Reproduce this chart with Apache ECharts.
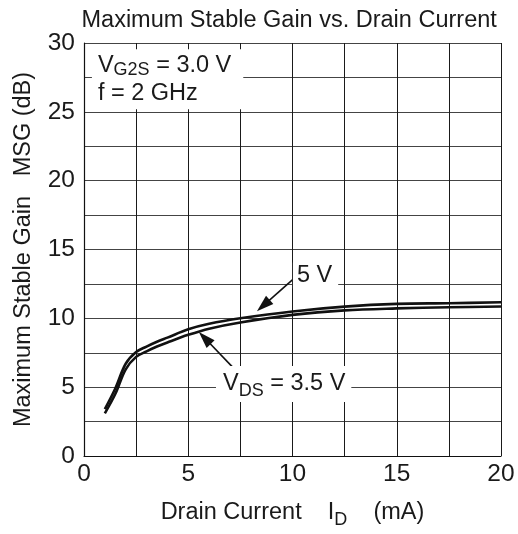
<!DOCTYPE html>
<html><head><meta charset="utf-8">
<script src="https://cdn.jsdelivr.net/npm/echarts/dist/echarts.min.js"></script>
<style>html,body{margin:0;padding:0;background:#fff}#c{width:518px;height:534px}</style>
</head><body><div id="c"></div>
<script>
const drainCurrent = [1, 1.5, 2, 2.5, 3, 3.5, 4, 5, 6, 7.5, 10, 12.5, 15, 17.5, 20];
const msgVds5 = [3.4, 4.9, 6.7, 7.55, 7.95, 8.3, 8.6, 9.2, 9.6, 10.0, 10.5, 10.85, 11.05, 11.1, 11.17];
const msgVds35 = [3.1, 4.5, 6.3, 7.2, 7.6, 7.95, 8.25, 8.8, 9.25, 9.7, 10.25, 10.58, 10.72, 10.8, 10.86];
const xTicks = [0, 5, 10, 15, 20];
const yTicks = [0, 5, 10, 15, 20, 25, 30];

const FONT = '"Liberation Sans", Arial, Helvetica, sans-serif';
const TXT = '#1a1a1a';
const pairs = (xs, ys) => xs.map((x, i) => [x, ys[i]]);
const arrowEnd = {symbol: 'triangle', symbolSize: [11, 17]};

const chart = echarts.init(document.getElementById('c'), null, {renderer: 'canvas'});
chart.setOption({
  animation: false,
  backgroundColor: '#fff',
  textStyle: {fontFamily: FONT, color: TXT},
  title: {
    text: 'Maximum Stable Gain vs. Drain Current',
    left: 81.5, top: 9, padding: 0,
    textStyle: {fontFamily: FONT, fontSize: 23.5, fontWeight: 'normal', color: TXT}
  },
  grid: {left: 84, right: 17, top: 43, bottom: 75, containLabel: false},
  xAxis: {
    type: 'value', min: xTicks[0], max: xTicks[xTicks.length - 1], interval: 5,
    name: '{t|Drain Current    I}{s|D}{t|    (mA)}',
    nameLocation: 'middle', nameGap: 45,
    nameTextStyle: {
      rich: {
        t: {fontFamily: FONT, fontSize: 23.5, color: TXT, lineHeight: 28, verticalAlign: 'top'},
        s: {fontFamily: FONT, fontSize: 18, color: TXT, lineHeight: 28, verticalAlign: 'bottom', padding: [11, 0, 0, 0]}
      }
    },
    axisLine: {show: true, lineStyle: {color: '#111', width: 1.2}},
    axisTick: {show: false},
    axisLabel: {fontFamily: FONT, fontSize: 24.5, color: TXT, margin: 6},
    splitLine: {show: true, lineStyle: {color: '#1a1a1a', width: 1}},
    minorTick: {show: false, splitNumber: 2},
    minorSplitLine: {show: true, lineStyle: {color: '#1a1a1a', width: 1}}
  },
  yAxis: {
    type: 'value', min: yTicks[0], max: yTicks[yTicks.length - 1], interval: 5,
    name: 'Maximum Stable Gain   MSG (dB)',
    nameLocation: 'middle', nameGap: 48,
    nameTextStyle: {fontFamily: FONT, fontSize: 23.5, color: TXT},
    axisLine: {show: true, lineStyle: {color: '#111', width: 1.2}},
    axisTick: {show: false},
    axisLabel: {fontFamily: FONT, fontSize: 24.5, color: TXT, margin: 9},
    splitLine: {show: true, lineStyle: {color: '#444', width: 1}},
    minorTick: {show: false, splitNumber: 2},
    minorSplitLine: {show: true, lineStyle: {color: '#444', width: 1}}
  },
  series: [
    {
      name: 'VDS = 5 V', type: 'line', data: pairs(drainCurrent, msgVds5),
      smooth: 0.35, showSymbol: false, symbol: 'none',
      lineStyle: {color: '#111', width: 2.6}, z: 3,
      markLine: {
        silent: true, symbol: ['none', 'triangle'], symbolSize: 14,
        label: {show: false},
        lineStyle: {color: '#111', width: 1.6, type: 'solid'},
        data: [
          [{coord: [10.02, 12.83], symbol: 'none'}, Object.assign({coord: [8.6, 10.93]}, arrowEnd)],
          [{coord: [7.15, 6.42], symbol: 'none'}, Object.assign({coord: [5.79, 8.57]}, arrowEnd)]
        ]
      },
      markPoint: {
        silent: true, symbol: 'rect', symbolSize: 0,
        data: [
          {
            coord: [0.38, 27.36],
            label: {
              show: true, position: 'right', distance: 0,
              backgroundColor: '#fff', padding: [2, 12, 2, 6],
              formatter: '{v|V}{s|G2S}{v| = 3.0 V}\n{v|f = 2 GHz}',
              rich: {
                v: {fontFamily: FONT, fontSize: 23.5, color: TXT, lineHeight: 28},
                s: {fontFamily: FONT, fontSize: 18, color: TXT, lineHeight: 28, verticalAlign: 'bottom', padding: [9, 0, 0, 0]}
              }
            }
          },
          {
            coord: [10.02, 13.12],
            label: {
              show: true, position: 'right', distance: 0,
              backgroundColor: '#fff', padding: [1, 6, 1, 4],
              formatter: '5 V',
              fontFamily: FONT, fontSize: 23.5, color: TXT
            }
          },
          {
            coord: [6.33, 5.23],
            label: {
              show: true, position: 'right', distance: 0,
              backgroundColor: '#fff', padding: [2, 6, 2, 7],
              formatter: '{v|V}{s|DS}{v| = 3.5 V}',
              rich: {
                v: {fontFamily: FONT, fontSize: 23.5, color: TXT, lineHeight: 32},
                s: {fontFamily: FONT, fontSize: 18, color: TXT, lineHeight: 32, verticalAlign: 'bottom', padding: [11, 0, 0, 0]}
              }
            }
          }
        ]
      }
    },
    {
      name: 'VDS = 3.5 V', type: 'line', data: pairs(drainCurrent, msgVds35),
      smooth: 0.35, showSymbol: false, symbol: 'none',
      lineStyle: {color: '#111', width: 2.6}, z: 3
    }
  ]
});
</script>
</body></html>
